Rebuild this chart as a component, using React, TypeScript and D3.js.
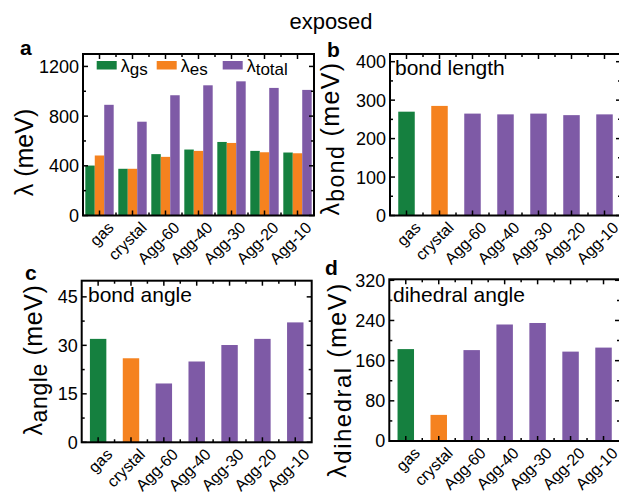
import * as d3 from "d3";

// values (meV)
const categories = ["gas", "crystal", "Agg-60", "Agg-40", "Agg-30", "Agg-20", "Agg-10"];
const lambdaGs = [402, 376, 494, 531, 592, 520, 507];
const lambdaEs = [483, 376, 472, 520, 584, 509, 501];
const lambdaTotal = [891, 755, 968, 1048, 1080, 1027, 1011];
const lambdaBond = [270, 285, 265, 263, 265, 261, 263];
const lambdaAngle = [32, 26, 18.2, 25, 30.1, 32, 37.1];
const lambdaDihedral = [183, 52, 181, 232, 235, 178, 186];
const seriesNames = ["gs", "es", "total"];

const GREEN = "#15803f";
const ORANGE = "#f5821f";
const PURPLE = "#7e5aa6";
const seriesColors = [GREEN, ORANGE, PURPLE];
const catColor = (i: number) => (i === 0 ? GREEN : i === 1 ? ORANGE : PURPLE);

const FONT = "Liberation Sans, Arial, sans-serif";

type Box = { x0: number; x1: number; y0: number; y1: number };

function Frame({ box, yMax, yStep, children }: { box: Box; yMax: number; yStep: number; children?: any }) {
  const x = d3.scaleBand<string>().domain(categories).range([box.x0, box.x1]);
  const y = d3.scaleLinear().domain([0, yMax]).range([box.y1, box.y0]);
  const major = d3.range(0, yMax + 1e-6, yStep);
  const minor = d3.range(yStep / 2, yMax, yStep);
  const bounds = d3.range(1, categories.length).map((i) => box.x0 + i * x.bandwidth());
  return (
    <g>
      {children(x, y)}
      {major.map((v) => (
        <g key={"M" + v}>
          <line x1={box.x0} x2={box.x0 + 5} y1={y(v)} y2={y(v)} stroke="#000" strokeWidth={1.5} />
          <line x1={box.x1} x2={box.x1 - 5} y1={y(v)} y2={y(v)} stroke="#000" strokeWidth={1.5} />
          <text x={box.x0 - 4} y={y(v)} dy="0.36em" textAnchor="end" fontSize={18}>
            {v}
          </text>
        </g>
      ))}
      {minor.map((v) => (
        <g key={"m" + v}>
          <line x1={box.x0} x2={box.x0 + 3} y1={y(v)} y2={y(v)} stroke="#000" strokeWidth={1.5} />
          <line x1={box.x1} x2={box.x1 - 3} y1={y(v)} y2={y(v)} stroke="#000" strokeWidth={1.5} />
        </g>
      ))}
      {categories.map((c) => {
        const cx = (x(c) as number) + x.bandwidth() / 2;
        return (
          <g key={c}>
            <line x1={cx} x2={cx} y1={box.y1} y2={box.y1 - 5} stroke="#000" strokeWidth={1.5} />
            <line x1={cx} x2={cx} y1={box.y0} y2={box.y0 + 5} stroke="#000" strokeWidth={1.5} />
            <text
              transform={`translate(${cx + 7},${box.y1 + 5}) rotate(-45)`}
              dy="0.72em"
              textAnchor="end"
              fontSize={16}
            >
              {c}
            </text>
          </g>
        );
      })}
      {bounds.map((bx) => (
        <g key={"b" + bx}>
          <line x1={bx} x2={bx} y1={box.y1} y2={box.y1 - 3} stroke="#000" strokeWidth={1.5} />
          <line x1={bx} x2={bx} y1={box.y0} y2={box.y0 + 3} stroke="#000" strokeWidth={1.5} />
        </g>
      ))}
      <rect x={box.x0} y={box.y0} width={box.x1 - box.x0} height={box.y1 - box.y0} fill="none" stroke="#000" strokeWidth={2} />
    </g>
  );
}

function YLabel({ x, y, size, sub, subSize, spacing = 0 }: { x: number; y: number; size: number; sub?: string; subSize?: number; spacing?: number }) {
  const shift = sub ? Math.round((subSize as number) * 0.22) : 0;
  return (
    <text transform={`translate(${x},${y}) rotate(-90)`} textAnchor="middle" fontSize={size} letterSpacing={spacing}>
      λ
      {sub ? (
        <tspan fontSize={subSize} dy={shift}>
          {sub}
        </tspan>
      ) : null}
      <tspan dy={-shift}> (meV)</tspan>
    </text>
  );
}

function SinglePanel({ box, values, yMax, yStep }: { box: Box; values: number[]; yMax: number; yStep: number }) {
  return (
    <Frame box={box} yMax={yMax} yStep={yStep}>
      {(x: d3.ScaleBand<string>, y: d3.ScaleLinear<number, number>) =>
        values.map((v, i) => {
          const w = x.bandwidth() * 0.5;
          const bx = (x(categories[i]) as number) + (x.bandwidth() - w) / 2;
          return <rect key={i} x={bx} y={y(v)} width={w} height={y(0) - y(v)} fill={catColor(i)} />;
        })
      }
    </Frame>
  );
}

export default function App() {
  const boxA: Box = { x0: 83, x1: 314, y0: 54, y1: 215.5 };
  const boxB: Box = { x0: 390, x1: 621, y0: 54, y1: 215.5 };
  const boxC: Box = { x0: 81.7, x1: 311.7, y0: 280.7, y1: 442.3 };
  const boxD: Box = { x0: 389.3, x1: 620, y0: 279.3, y1: 441 };
  const grouped = [lambdaGs, lambdaEs, lambdaTotal];

  return (
    <div style={{ position: "absolute", left: 0, top: 0 }}>
      <svg width={619} height={493} style={{ display: "block", background: "#fff" }} fontFamily={FONT}>
        <text x={331} y={29} textAnchor="middle" fontSize={22}>
          exposed
        </text>

        {/* a */}
        <Frame box={boxA} yMax={1300} yStep={400}>
          {(x: d3.ScaleBand<string>, y: d3.ScaleLinear<number, number>) => {
            const gw = x.bandwidth() * 0.86;
            const inner = d3.scaleBand<string>().domain(seriesNames).range([0, gw]);
            return categories.map((c, i) => {
              const gx = (x(c) as number) + (x.bandwidth() - gw) / 2;
              return grouped.map((s, k) => (
                <rect
                  key={c + k}
                  x={gx + (inner(seriesNames[k]) as number)}
                  y={y(s[i])}
                  width={inner.bandwidth()}
                  height={y(0) - y(s[i])}
                  fill={seriesColors[k]}
                />
              ));
            });
          }}
        </Frame>
        {seriesNames.map((n, k) => {
          const lx = [96.7, 156.7, 222.7][k];
          return (
            <g key={n}>
              <rect x={lx} y={61} width={20} height={8.5} fill={seriesColors[k]} />
              <text x={lx + 24} y={71.5} fontSize={18}>
                λ
                <tspan dy={3} fontSize={17}>
                  {n}
                </tspan>
              </text>
            </g>
          );
        })}
        <YLabel x={33} y={152.5} size={25} />
        <text x={20} y={55} fontSize={21} fontWeight="bold">a</text>

        {/* b */}
        <SinglePanel box={boxB} values={lambdaBond} yMax={420} yStep={100} />
        <text x={395} y={75} fontSize={21}>bond length</text>
        <YLabel x={339} y={138.5} size={25} sub="bond" subSize={23} spacing={1.4} />
        <text x={327} y={57} fontSize={21} fontWeight="bold">b</text>

        {/* c */}
        <SinglePanel box={boxC} values={lambdaAngle} yMax={50} yStep={15} />
        <text x={88} y={301.7} fontSize={21}>bond angle</text>
        <YLabel x={42} y={360} size={25} sub="angle" subSize={23} spacing={0.6} />
        <text x={25} y={280} fontSize={21} fontWeight="bold">c</text>

        {/* d */}
        <SinglePanel box={boxD} values={lambdaDihedral} yMax={322} yStep={80} />
        <text x={393} y={301.7} fontSize={21}>dihedral angle</text>
        <YLabel x={346} y={380} size={25} sub="dihedral" subSize={24} spacing={1.5} />
        <text x={325} y={275} fontSize={21} fontWeight="bold">d</text>
      </svg>
    </div>
  );
}
